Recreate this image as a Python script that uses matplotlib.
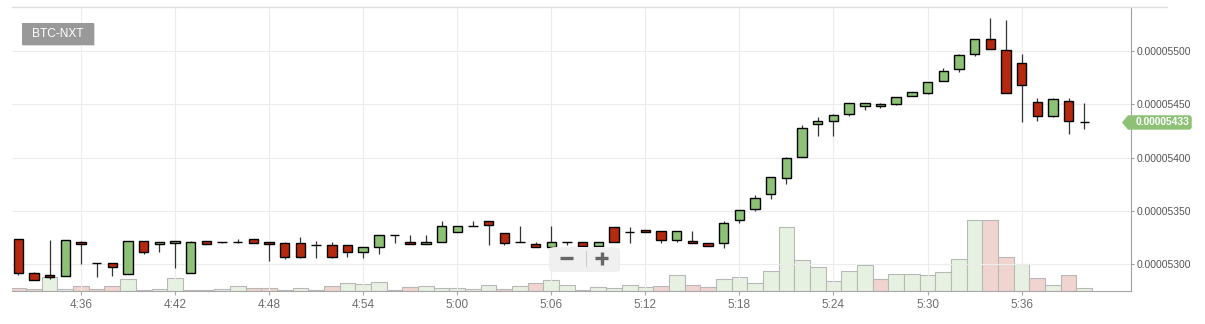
import matplotlib
matplotlib.use("Agg")
import matplotlib.pyplot as plt
from matplotlib.patches import Polygon, FancyBboxPatch, Rectangle
from matplotlib.lines import Line2D
from matplotlib.ticker import FixedLocator, FuncFormatter

plt.rcParams["font.family"] = ["Liberation Sans", "DejaVu Sans"]

# ---------------- data (prices in units of 1e-8 BTC) ----------------
times = ["4:32", "4:33", "4:34", "4:35", "4:36", "4:37", "4:38", "4:39", "4:40", "4:41",
         "4:42", "4:43", "4:44", "4:45", "4:46", "4:47", "4:48", "4:49", "4:50", "4:51",
         "4:52", "4:53", "4:54", "4:55", "4:56", "4:57", "4:58", "4:59", "5:00", "5:01",
         "5:02", "5:03", "5:04", "5:05", "5:06", "5:07", "5:08", "5:09", "5:10", "5:11",
         "5:12", "5:13", "5:14", "5:15", "5:16", "5:17", "5:18", "5:19", "5:20", "5:21",
         "5:22", "5:23", "5:24", "5:25", "5:26", "5:27", "5:28", "5:29", "5:30", "5:31",
         "5:32", "5:33", "5:34", "5:35", "5:36", "5:37", "5:38", "5:39", "5:40"]

opens = [5323.4, 5291.6, 5289.7, 5288.7, 5321.0, 5301.0, 5301.0, 5290.6, 5321.5, 5318.7,
         5319.7, 5291.6, 5321.6, 5320.5, 5321.3, 5323.4, 5320.6, 5319.7, 5319.7, 5317.8,
         5317.8, 5317.8, 5311.2, 5315.9, 5327.2, 5320.6, 5318.7, 5320.6, 5330.0, 5335.6,
         5340.3, 5329.1, 5320.6, 5318.7, 5315.9, 5320.6, 5320.6, 5316.9, 5334.7, 5330.6,
         5331.9, 5330.9, 5322.5, 5321.6, 5319.7, 5319.7, 5341.3, 5351.6, 5365.6, 5380.6,
         5400.9, 5431.2, 5434.1, 5440.6, 5448.1, 5448.1, 5450.0, 5457.5, 5460.3, 5471.5,
         5482.8, 5496.9, 5510.9, 5500.6, 5488.4, 5451.9, 5438.7, 5452.8, 5433.3]
highs = [5323.4, 5292.8, 5322.8, 5322.5, 5321.5, 5301.0, 5301.0, 5321.5, 5321.5, 5320.6,
         5321.5, 5321.5, 5321.6, 5321.2, 5323.4, 5323.4, 5320.6, 5321.0, 5325.6, 5321.6,
         5321.0, 5317.8, 5315.9, 5327.2, 5327.2, 5327.5, 5327.5, 5340.6, 5335.6, 5340.6,
         5340.3, 5329.1, 5335.9, 5320.6, 5335.9, 5320.6, 5320.6, 5320.6, 5334.7, 5334.7,
         5331.9, 5330.9, 5330.9, 5330.9, 5319.7, 5340.3, 5350.6, 5364.8, 5381.6, 5400.3,
         5430.9, 5438.1, 5440.9, 5450.9, 5450.9, 5450.9, 5456.6, 5461.2, 5470.6, 5484.0,
         5497.2, 5510.9, 5530.9, 5528.7, 5496.9, 5455.6, 5455.6, 5455.6, 5450.9]
lows = [5290.3, 5285.0, 5286.0, 5288.7, 5300.6, 5288.4, 5289.4, 5290.6, 5309.4, 5311.2,
        5296.2, 5291.6, 5319.4, 5320.0, 5320.3, 5320.3, 5303.4, 5304.7, 5306.2, 5306.2,
        5306.2, 5307.2, 5306.2, 5309.4, 5320.3, 5318.7, 5318.7, 5320.6, 5330.0, 5335.6,
        5318.4, 5318.4, 5320.6, 5315.9, 5315.9, 5317.8, 5316.9, 5316.9, 5320.6, 5320.3,
        5330.0, 5320.3, 5320.6, 5319.7, 5316.9, 5315.6, 5338.4, 5350.3, 5361.6, 5375.6,
        5400.9, 5420.6, 5420.6, 5438.7, 5445.0, 5446.2, 5449.1, 5457.5, 5459.4, 5471.5,
        5480.6, 5495.6, 5501.5, 5460.3, 5433.7, 5434.7, 5437.8, 5422.5, 5426.9]
closes = [5291.6, 5285.0, 5287.8, 5322.5, 5318.7, 5301.0, 5297.2, 5321.5, 5311.2, 5320.6,
          5321.5, 5320.6, 5319.4, 5320.5, 5321.3, 5320.3, 5318.7, 5307.2, 5307.2, 5317.8,
          5307.2, 5311.2, 5315.9, 5327.2, 5327.2, 5318.7, 5320.6, 5335.6, 5335.6, 5335.6,
          5336.6, 5320.3, 5320.6, 5315.9, 5320.6, 5320.6, 5316.9, 5320.6, 5320.6, 5330.6,
          5330.0, 5322.5, 5330.9, 5319.7, 5316.9, 5338.4, 5350.6, 5361.9, 5381.6, 5399.4,
          5427.5, 5434.1, 5440.0, 5450.9, 5450.9, 5450.0, 5456.6, 5461.2, 5470.6, 5480.9,
          5495.9, 5510.9, 5501.5, 5460.3, 5467.8, 5438.7, 5454.7, 5434.0, 5433.0]

volumes = [2.7, 1.7, 14.0, 1.7, 5.0, 1.7, 5.0, 12.0, 0.7, 1.7,
           13.0, 0.7, 0.7, 1.7, 5.0, 2.7, 2.7, 0.7, 2.7, 0.7,
           5.0, 7.7, 6.7, 8.7, 0.8, 3.7, 5.0, 2.7, 2.7, 1.7,
           5.7, 1.7, 4.7, 7.7, 10.7, 5.7, 0.7, 3.7, 2.7, 5.7,
           3.7, 4.7, 15.7, 5.7, 3.7, 11.7, 14.0, 7.7, 19.7, 64.0,
           30.7, 23.7, 9.7, 19.7, 25.7, 11.7, 16.7, 16.7, 15.7, 18.7,
           31.7, 70.7, 70.7, 33.7, 26.7, 12.7, 5.7, 15.7, 2.7]
volume_dir = ["r", "r", "g", "g", "r", "r", "r", "g", "r", "g",
              "g", "r", "g", "g", "g", "r", "r", "r", "g", "g",
              "r", "g", "g", "g", "g", "r", "g", "g", "g", "g",
              "g", "r", "g", "r", "g", "g", "r", "g", "g", "g",
              "g", "r", "g", "r", "r", "g", "g", "g", "g", "g",
              "g", "g", "g", "g", "g", "r", "g", "g", "g", "g",
              "g", "g", "r", "r", "g", "r", "g", "r", "g"]

x_ticks = ["4:36", "4:42", "4:48", "4:54", "5:00", "5:06", "5:12", "5:18", "5:24", "5:30", "5:36"]
y_ticks = [5300, 5350, 5400, 5450, 5500]
symbol = "BTC-NXT"

# ---------------- styling ----------------
W, H = 1205, 324
UP, DOWN = "#8cc176", "#b52a0e"
VOL_UP, VOL_DOWN = "#e7f1e1", "#f0d4cf"


def to_min(t):
    h, m = t.split(":")
    return int(h) * 60 + int(m)


def fx(x):
    return x / W


def fy(y):
    return 1 - y / H


xs = [to_min(t) for t in times]
fig = plt.figure(figsize=(W / 100, H / 100), dpi=100)
fig.patch.set_facecolor("white")

rect = [fx(12), fy(291), (1130.7 - 12) / W, (291 - 7) / H]
xlim = (to_min("4:32") - 0.40, to_min("5:36") + 6.96)

# volume axis (behind)
ax_v = fig.add_axes(rect)
ax_v.bar(xs, volumes, width=1.0,
         color=[VOL_UP if d == "g" else VOL_DOWN for d in volume_dir],
         edgecolor="#b8b8b8", linewidth=0.8, align="center")
ax_v.set_xlim(*xlim)
ax_v.set_ylim(0, max(volumes) * 284 / 70.7)
ax_v.axis("off")

# price axis
ax = fig.add_axes(rect)
ax.patch.set_alpha(0)
ax.set_xlim(*xlim)
ax.set_ylim(5275.0, 5541.25)

ax.vlines(xs, lows, highs, color="#333333", linewidth=0.9, zorder=2)
bottoms = [min(o, c) for o, c in zip(opens, closes)]
heights = [abs(c - o) for o, c in zip(opens, closes)]
cols = [UP if c > o else DOWN for o, c in zip(opens, closes)]
ax.bar(xs, heights, bottom=bottoms, width=0.6, color=cols,
       edgecolor="black", linewidth=1.0, zorder=3)

ax.xaxis.set_major_locator(FixedLocator([to_min(t) for t in x_ticks]))
ax.xaxis.set_major_formatter(FuncFormatter(lambda v, p: f"{int(round(v)) // 60}:{int(round(v)) % 60:02d}"))
ax.yaxis.set_major_locator(FixedLocator(y_ticks))
ax.yaxis.set_major_formatter(FuncFormatter(lambda v, p: f"{v * 1e-8:.8f}"))
ax.yaxis.tick_right()
ax.grid(True, color="#ececec", linewidth=0.8)
ax.set_axisbelow(True)

for s in ("top", "left"):
    ax.spines[s].set_visible(False)
ax.spines["right"].set_color("#a0a0a0")
ax.spines["bottom"].set_color("#a8a8a8")
ax.tick_params(axis="x", length=3, width=0.8, color="#a8a8a8", pad=3,
               labelsize=8.5, labelcolor="#6e6e6e")
ax.tick_params(axis="y", length=2.5, width=0.8, color="#a0a0a0", pad=2,
               labelsize=7.4, labelcolor="#555555")

# top border line
fig.add_artist(Line2D([fx(12), fx(1167)], [fy(7.3), fy(7.3)], color="#e0e0e0",
                      linewidth=1.0, transform=fig.transFigure))

# symbol badge
fig.add_artist(Rectangle((fx(23), fy(46)), 72 / W, 21.7 / H, transform=fig.transFigure,
                         facecolor="#dddddd", edgecolor="none", zorder=9))
fig.add_artist(Rectangle((fx(22), fy(44.7)), 72 / W, 21.7 / H, transform=fig.transFigure,
                         facecolor="#999999", edgecolor="none", zorder=10))
fig.text(fx(58), fy(34), symbol, color="white", fontsize=8.6, ha="center", va="center", zorder=11)

# last price tag
y_disp = ax.transData.transform((xlim[0], closes[-1]))[1]
yc = H - y_disp * H / fig.bbox.height
tag = [(1122, yc), (1128, yc - 7.2), (1190, yc - 7.2), (1191.7, yc - 5.5),
       (1191.7, yc + 5.5), (1190, yc + 7.2), (1128, yc + 7.2)]
fig.add_artist(Polygon([(fx(a), fy(b)) for a, b in tag], closed=True,
                       transform=fig.transFigure, facecolor="#8cc176", edgecolor="none", zorder=10))
fig.text(fx(1136), fy(yc), f"{closes[-1] * 1e-8:.8f}", color="white", fontsize=7.4,
         fontweight="bold", ha="left", va="center", zorder=11)

# zoom buttons
fig.add_artist(FancyBboxPatch((fx(550), fy(272)), 70 / W, 24 / H, transform=fig.transFigure,
                              boxstyle="round,pad=0,rounding_size=0.006", facecolor="#e4e4e4",
                              edgecolor="none", alpha=0.6, zorder=10))
fig.add_artist(FancyBboxPatch((fx(549), fy(271)), 70 / W, 24 / H, transform=fig.transFigure,
                              boxstyle="round,pad=0,rounding_size=0.006", facecolor="#f1f1f1",
                              edgecolor="none", alpha=0.95, zorder=11))
fig.add_artist(Line2D([fx(585.7), fx(585.7)], [fy(251), fy(266)], color="#cccccc",
                      linewidth=0.8, transform=fig.transFigure, zorder=12))
fig.add_artist(Line2D([fx(560), fx(573)], [fy(258.3), fy(258.3)], color="#666666",
                      linewidth=2.4, transform=fig.transFigure, zorder=12, solid_capstyle="butt"))
fig.add_artist(Line2D([fx(595), fx(608)], [fy(258.3), fy(258.3)], color="#666666",
                      linewidth=2.4, transform=fig.transFigure, zorder=12, solid_capstyle="butt"))
fig.add_artist(Line2D([fx(601.5), fx(601.5)], [fy(251.8), fy(264.8)], color="#666666",
                      linewidth=2.4, transform=fig.transFigure, zorder=12, solid_capstyle="butt"))

fig.savefig("out.png", dpi=100)
